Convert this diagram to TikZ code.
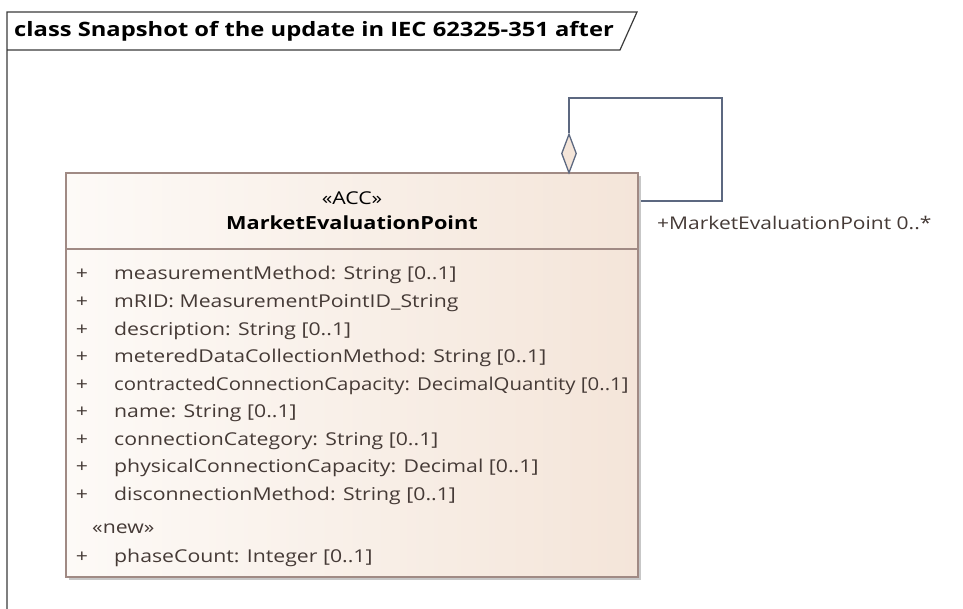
\documentclass[tikz,border=0pt]{standalone}
\usepackage{fontspec}
\setmainfont{Open Sans}[FakeStretch=1.2]
\usetikzlibrary{shapes.geometric,shadows}
\definecolor{linec}{HTML}{5C6880}
\definecolor{boxline}{HTML}{A08A84}
\definecolor{boxl}{HTML}{FDFAF7}
\definecolor{boxr}{HTML}{F4E5D9}
\definecolor{txt}{HTML}{453A36}
\definecolor{framec}{HTML}{3A3A3A}
\tikzset{
  classbox/.style={draw=boxline, line width=1.2pt, left color=boxl, right color=boxr, inner sep=0pt,
    minimum width=572pt, minimum height=404pt,
    drop shadow={shadow xshift=3pt, shadow yshift=-3pt, fill=black!22, opacity=1}},
  attr/.style={anchor=base west, inner sep=0pt, text=txt, font=\fontsize{17.7}{20}\selectfont},
  plus/.style={anchor=base, inner sep=0pt, text=txt, font=\fontsize{17.7}{20}\selectfont},
  assoc/.style={draw=linec, line width=1.3pt},
  aggr/.style={shape=diamond, draw=linec, line width=1.3pt, fill=boxr, inner sep=0pt, minimum width=15pt, minimum height=39pt},
}
\begin{document}
\begin{tikzpicture}[x=1pt,y=-1pt]
\useasboundingbox (0,0) rectangle (963,609);
% frame
\draw[framec, line width=1.2pt] (7,609) -- (7,12) -- (637,12) -- (620,50) -- (7,50);
\node[anchor=base west, inner sep=0pt, font=\fontsize{19.8}{22}\selectfont\bfseries] (title) at (14,37) {class Snapshot of the update in IEC 62325-351 after};
% class
\node[classbox] (cls) at (352,375) {};
\draw[boxline, line width=1.2pt] (cls.west |- 0,249) -- (cls.east |- 0,249);
\node[anchor=base, inner sep=0pt, font=\fontsize{17.7}{20}\selectfont] (st) at (352,205) {«ACC»};
\node[anchor=base, inner sep=0pt, font=\fontsize{18.1}{20}\selectfont\bfseries] (nm) at (352,230) {MarketEvaluationPoint};
\foreach \i/\t in {0/{measurementMethod: String [0..1]},1/{mRID: MeasurementPointID\_String},2/{description: String [0..1]},3/{meteredDataCollectionMethod: String [0..1]},4/{\scalebox{0.959}[1]{contractedConnectionCapacity: DecimalQuantity [0..1]}},5/{name: String [0..1]},6/{connectionCategory: String [0..1]},7/{physicalConnectionCapacity: Decimal [0..1]},8/{disconnectionMethod: String [0..1]}}{
  \node[plus] (p\i) at (82,280+27.5*\i) {+};
  \node[attr] (a\i) at (114,280+27.5*\i) {\t};
}
\node[attr] (new) at (92,533) {«new»};
\node[plus] (p9) at (82,562) {+};
\node[attr] (a9) at (114,562) {phaseCount: Integer [0..1]};
% self aggregation
\node[aggr] (dia) at (569,153.5) {};
\coordinate (loop) at (722,98);
\coordinate (endc) at (641,201);
\draw[assoc] (dia.north) |- (loop) |- (endc);
\node[anchor=base west, inner sep=0pt, text=txt, font=\fontsize{17.5}{20}\selectfont] (role) at (657,230) {+MarketEvaluationPoint 0..*};
\end{tikzpicture}
\end{document}
